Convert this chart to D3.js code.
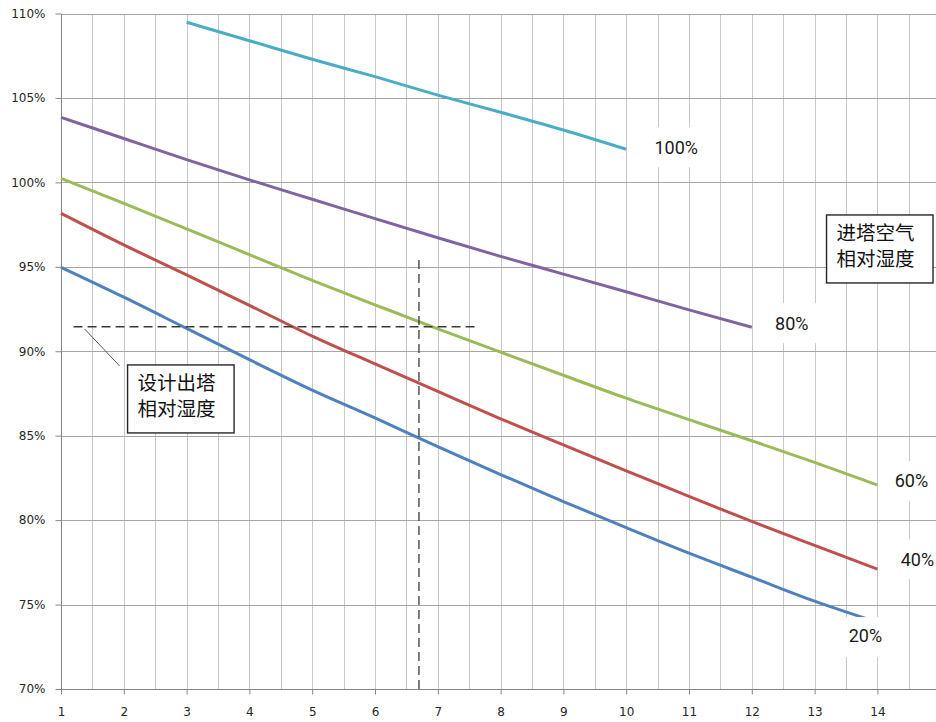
<!DOCTYPE html>
<html><head><meta charset="utf-8">
<script src="https://cdn.jsdelivr.net/npm/d3@7"></script>
<style>body{margin:0;background:#fff}svg{display:block}</style>
</head><body>
<svg id="c" width="936" height="722"></svg>
<script>
// ---- data ----
const xValues = [1,2,3,4,5,6,7,8,9,10,11,12,13,14];
const rh20 = [94.97,93.2,91.35,89.5,87.7,86.05,84.35,82.7,81.1,79.55,78.04,76.62,75.2,73.95];
const rh40 = [98.17,96.3,94.52,92.72,90.9,89.25,87.62,86.0,84.45,82.92,81.4,79.92,78.5,77.1];
const rh60 = [100.24,98.76,97.25,95.72,94.2,92.75,91.32,89.95,88.58,87.22,85.95,84.7,83.42,82.08];
const x80 = [1,2,3,4,5,6,7,8,9,10,11,12];
const rh80 = [103.85,102.6,101.35,100.15,99.0,97.85,96.72,95.62,94.57,93.52,92.45,91.42];
const x100 = [3,4,5,6,7,8,9,10];
const rh100 = [109.48,108.39,107.29,106.26,105.17,104.15,103.1,101.96];
const seriesNames = ["20%","40%","60%","80%","100%"];
const seriesColors = ["#4F81BD","#C0504D","#9BBB59","#8064A2","#4BACC6"];
const yTicks = [70,75,80,85,90,95,100,105,110];
const xTicks = [1,2,3,4,5,6,7,8,9,10,11,12,13,14];
const designOutletRH = 91.45;
const designX = 6.7;
const hDashRange = [1.2, 7.65];
const vDashRange = [70, 95.4];
const noteOutlet = ["设计出塔","相对湿度"];
const noteInlet = ["进塔空气","相对湿度"];

// ---- chart ----
const svg = d3.select("#c");
const x = d3.scaleLinear().domain([1,15]).range([61,940.2]);
const y = d3.scaleLinear().domain([70,110]).range([689,13.5]);
const cx = v => Math.round(x(v)) + 0.5;
const cy = v => Math.round(y(v)) + 0.5;

// gridlines
const grid = svg.append("g");
grid.selectAll("line.v").data(d3.range(1.5, 15.01, 0.5)).enter().append("line")
  .attr("x1", d => cx(d)).attr("x2", d => cx(d))
  .attr("y1", cy(110)).attr("y2", cy(70))
  .attr("stroke", "#c8c8c8").attr("stroke-width", 1);
grid.selectAll("line.h").data(yTicks.filter(d => d > 70)).enter().append("line")
  .attr("x1", cx(1)).attr("x2", 936)
  .attr("y1", d => cy(d)).attr("y2", d => cy(d))
  .attr("stroke", "#a6a6a6").attr("stroke-width", 1);

// axes
const yAxis = svg.append("g").attr("transform", `translate(${cx(1)},0)`)
  .call(d3.axisLeft(y).tickValues(yTicks).tickFormat(d => d + "%").tickSize(6).tickSizeOuter(0).tickPadding(10));
const xAxis = svg.append("g").attr("transform", `translate(0,${cy(70)})`)
  .call(d3.axisBottom(x).tickValues(xTicks).tickFormat(d3.format("d")).tickSize(5).tickSizeOuter(0).tickPadding(12.5));
[yAxis, xAxis].forEach(a => {
  a.selectAll("path, line").attr("stroke", "#868686");
  a.selectAll("text").attr("font-family", "DejaVu Sans, Verdana, sans-serif").attr("font-size", "12px").attr("fill", "#262626");
});
yAxis.select("path").attr("d", `M0,${cy(110)-0.5}V${cy(70)}`);
xAxis.select("path").attr("d", `M${cx(1)-0.5},0H936`);

// series
const series = [
  {xs: xValues, ys: rh20},
  {xs: xValues, ys: rh40},
  {xs: xValues, ys: rh60},
  {xs: x80, ys: rh80},
  {xs: x100, ys: rh100}
];
const line = d3.line().x(d => x(d[0])).y(d => y(d[1])).curve(d3.curveMonotoneX);
series.forEach((s, i) => {
  svg.append("path")
    .datum(s.xs.map((v, j) => [v, s.ys[j]]))
    .attr("d", line)
    .attr("fill", "none")
    .attr("stroke", seriesColors[i])
    .attr("stroke-width", 3)
    .attr("stroke-linecap", "butt");
});

// dashed guide lines
svg.append("line")
  .attr("x1", x(hDashRange[0])).attr("x2", x(hDashRange[1]))
  .attr("y1", y(designOutletRH)).attr("y2", y(designOutletRH))
  .attr("stroke", "#3a3a3a").attr("stroke-width", 1.3).attr("stroke-dasharray", "9,5");
svg.append("line")
  .attr("x1", x(designX)).attr("x2", x(designX))
  .attr("y1", y(vDashRange[1])).attr("y2", y(vDashRange[0]))
  .attr("stroke", "#3a3a3a").attr("stroke-width", 1.3).attr("stroke-dasharray", "9,5");

// series labels (white background like data labels)
const labelOffsets = [[-12, 12.8], [40, -10], [34, -4], [40, -4], [50, -2]];
const boxTop = [18, 20, 20, 20, 20];
series.forEach((s, i) => {
  const n = s.xs.length - 1;
  const px = x(s.xs[n]) + labelOffsets[i][0];
  const py = y(s.ys[n]) + labelOffsets[i][1];
  const g = svg.append("g");
  const t = g.append("text")
    .attr("x", px).attr("y", py).attr("dy", "0.36em")
    .attr("text-anchor", "middle")
    .attr("font-family", "Roboto, sans-serif").attr("font-size", "18px").attr("fill", "#1a1a1a")
    .text(seriesNames[i]);
  const w = t.node().getComputedTextLength() + 26;
  g.insert("rect", "text")
    .attr("x", px - w / 2).attr("y", py - boxTop[i]).attr("width", w).attr("height", 40)
    .attr("fill", "#fff");
});

// annotation boxes
function noteBox(tx, ty, lines) {
  const bx = x(tx), by = y(ty);
  const g = svg.append("g");
  g.append("rect").attr("x", bx).attr("y", by).attr("width", 106.5).attr("height", 68)
    .attr("fill", "#fff").attr("stroke", "#262626").attr("stroke-width", 1.4);
  const t = g.append("text")
    .attr("font-family", "'Noto Sans CJK SC', sans-serif").attr("font-size", "19.5px").attr("fill", "#111");
  lines.forEach((l, k) => {
    t.append("tspan").attr("x", bx + 10).attr("y", by + 18.5 + k * 25.5).attr("dy", "0.36em").text(l);
  });
  return [bx, by];
}
const b1 = noteBox(2.06, 89.19, noteOutlet);
svg.append("line").attr("x1", b1[0] - 43).attr("y1", b1[1] - 36).attr("x2", b1[0] - 8).attr("y2", b1[1] + 1)
  .attr("stroke", "#555").attr("stroke-width", 1);
noteBox(13.19, 98.07, noteInlet);
</script>
</body></html>
